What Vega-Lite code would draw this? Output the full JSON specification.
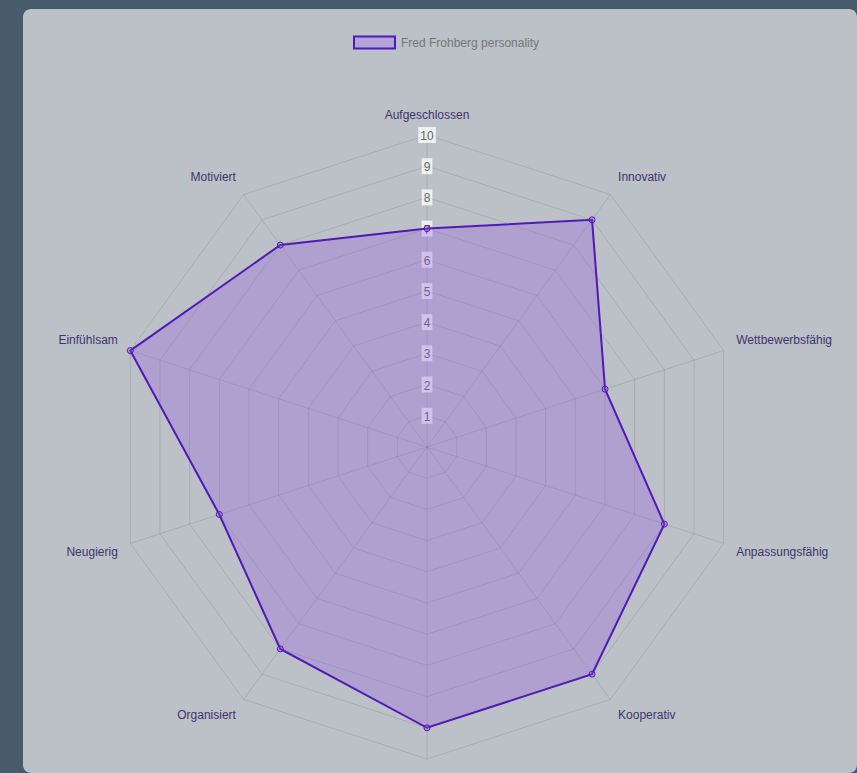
{
  "$schema": "https://vega.github.io/schema/vega-lite/v6.json",
  "autosize": {"type": "fit", "contains": "padding"},
  "width": 857,
  "height": 773,
  "padding": {"left": 23, "top": 9, "right": 0, "bottom": 0},
  "background": "#475b6a",
  "config": {
    "view": {"fill": "#bbc1c7", "stroke": null, "cornerRadius": 8},
    "font": "Liberation Sans"
  },
  "datasets": {
    "traits": [
      {"i": 0, "trait": "Aufgeschlossen", "value": 7},
      {"i": 1, "trait": "Innovativ", "value": 9},
      {"i": 2, "trait": "Wettbewerbsfähig", "value": 6},
      {"i": 3, "trait": "Anpassungsfähig", "value": 8},
      {"i": 4, "trait": "Kooperativ", "value": 9},
      {"i": 5, "trait": "Zuverlässig", "value": 9},
      {"i": 6, "trait": "Organisiert", "value": 8},
      {"i": 7, "trait": "Neugierig", "value": 7},
      {"i": 8, "trait": "Einfühlsam", "value": 10},
      {"i": 9, "trait": "Motiviert", "value": 8}
    ],
    "grid": [
      {"level": 1, "i": [0, 1, 2, 3, 4, 5, 6, 7, 8, 9]},
      {"level": 2, "i": [0, 1, 2, 3, 4, 5, 6, 7, 8, 9]},
      {"level": 3, "i": [0, 1, 2, 3, 4, 5, 6, 7, 8, 9]},
      {"level": 4, "i": [0, 1, 2, 3, 4, 5, 6, 7, 8, 9]},
      {"level": 5, "i": [0, 1, 2, 3, 4, 5, 6, 7, 8, 9]},
      {"level": 6, "i": [0, 1, 2, 3, 4, 5, 6, 7, 8, 9]},
      {"level": 7, "i": [0, 1, 2, 3, 4, 5, 6, 7, 8, 9]},
      {"level": 8, "i": [0, 1, 2, 3, 4, 5, 6, 7, 8, 9]},
      {"level": 9, "i": [0, 1, 2, 3, 4, 5, 6, 7, 8, 9]},
      {"level": 10, "i": [0, 1, 2, 3, 4, 5, 6, 7, 8, 9]}
    ]
  },
  "encoding": {
    "x": {"field": "x", "type": "quantitative", "scale": {"domain": [-12.949, 13.782], "nice": false, "zero": false}, "axis": null},
    "y": {"field": "y", "type": "quantitative", "scale": {"domain": [-10.449, 14.038], "nice": false, "zero": false}, "axis": null}
  },
  "layer": [
    {
      "data": {"name": "grid"},
      "transform": [
        {"flatten": ["i"]},
        {"calculate": "datum.level*sin(datum.i*PI/5)", "as": "x"},
        {"calculate": "datum.level*cos(datum.i*PI/5)", "as": "y"}
      ],
      "mark": {"type": "line", "interpolate": "linear-closed", "stroke": "#000000", "strokeOpacity": 0.1, "strokeWidth": 1},
      "encoding": {
        "detail": {"field": "level", "type": "nominal"},
        "order": {"field": "i", "type": "quantitative"}
      }
    },
    {
      "data": {"name": "traits"},
      "transform": [
        {"calculate": "0", "as": "x"},
        {"calculate": "0", "as": "y"},
        {"calculate": "10*sin(datum.i*PI/5)", "as": "x2"},
        {"calculate": "10*cos(datum.i*PI/5)", "as": "y2"}
      ],
      "mark": {"type": "rule", "stroke": "#000000", "strokeOpacity": 0.1, "strokeWidth": 1},
      "encoding": {"x2": {"field": "x2"}, "y2": {"field": "y2"}}
    },
    {
      "data": {"name": "grid"},
      "transform": [
        {"filter": "datum.level < 10"},
        {"calculate": "0", "as": "x"},
        {"calculate": "datum.level", "as": "y"}
      ],
      "mark": {"type": "point", "shape": "M-0.67,-1H0.67V1H-0.67Z", "filled": true, "fill": "#ffffff", "fillOpacity": 0.75, "strokeWidth": 0, "size": 256}
    },
    {
      "data": {"name": "grid"},
      "transform": [
        {"filter": "datum.level == 10"},
        {"calculate": "0", "as": "x"},
        {"calculate": "datum.level", "as": "y"}
      ],
      "mark": {"type": "point", "shape": "M-1.1,-1H1.1V1H-1.1Z", "filled": true, "fill": "#ffffff", "fillOpacity": 0.75, "strokeWidth": 0, "size": 256}
    },
    {
      "data": {"name": "grid"},
      "transform": [
        {"calculate": "0", "as": "x"},
        {"calculate": "datum.level", "as": "y"}
      ],
      "mark": {"type": "text", "fontSize": 12, "color": "#666666", "baseline": "middle", "align": "center", "dy": 1},
      "encoding": {"text": {"field": "level", "type": "quantitative"}}
    },
    {
      "data": {"name": "traits"},
      "transform": [
        {"calculate": "datum.value*sin(datum.i*PI/5)", "as": "x"},
        {"calculate": "datum.value*cos(datum.i*PI/5)", "as": "y"}
      ],
      "mark": {"type": "line", "interpolate": "linear-closed", "fill": "#9457e3", "fillOpacity": 0.3, "strokeOpacity": 0},
      "encoding": {
        "order": {"field": "i", "type": "quantitative"}
      }
    },
    {
      "data": {"name": "traits"},
      "transform": [
        {"calculate": "datum.value*sin(datum.i*PI/5)", "as": "x"},
        {"calculate": "datum.value*cos(datum.i*PI/5)", "as": "y"}
      ],
      "mark": {"type": "line", "interpolate": "linear-closed", "strokeWidth": 2},
      "encoding": {
        "order": {"field": "i", "type": "quantitative"},
        "color": {
          "datum": "Fred Frohberg personality",
          "type": "nominal",
          "scale": {"range": ["#5119b5"]},
          "legend": {
            "orient": "none",
            "legendX": 330,
            "legendY": 12,
            "title": null,
            "padding": 0,
            "symbolType": "M-1,-0.293H1V0.293H-1Z",
            "symbolSize": 1681,
            "symbolStrokeWidth": 2,
            "symbolStrokeColor": "#5119b5",
            "symbolFillColor": "#b3a3d8",
            "labelFontSize": 12,
            "labelColor": "#777777",
            "labelOffset": 5,
            "labelFont": "Liberation Sans",
            "encode": {
              "symbols": {
                "update": {
                  "fill": {"value": "#b3a3d8"},
                  "fillOpacity": {"value": 1},
                  "stroke": {"value": "#5119b5"},
                  "opacity": {"value": 1}
                }
              }
            }
          }
        }
      }
    },
    {
      "data": {"name": "traits"},
      "transform": [
        {"calculate": "datum.value*sin(datum.i*PI/5)", "as": "x"},
        {"calculate": "datum.value*cos(datum.i*PI/5)", "as": "y"}
      ],
      "mark": {"type": "point", "shape": "circle", "filled": true, "fill": "#9457e3", "fillOpacity": 0.3, "stroke": "#5119b5", "strokeWidth": 1, "strokeOpacity": 1, "size": 36}
    },
    {
      "data": {"name": "traits"},
      "transform": [
        {"filter": "datum.i == 0"},
        {"calculate": "10.42*sin(datum.i*PI/5)", "as": "x"},
        {"calculate": "10.42*cos(datum.i*PI/5)", "as": "y"}
      ],
      "mark": {"type": "text", "fontSize": 12, "color": "#42336e", "align": "center", "baseline": "bottom"},
      "encoding": {"text": {"field": "trait"}}
    },
    {
      "data": {"name": "traits"},
      "transform": [
        {"filter": "datum.i == 1 || datum.i == 2"},
        {"calculate": "10.42*sin(datum.i*PI/5)", "as": "x"},
        {"calculate": "10.42*cos(datum.i*PI/5)", "as": "y"}
      ],
      "mark": {"type": "text", "fontSize": 12, "color": "#42336e", "align": "left", "baseline": "bottom"},
      "encoding": {"text": {"field": "trait"}}
    },
    {
      "data": {"name": "traits"},
      "transform": [
        {"filter": "datum.i == 3 || datum.i == 4"},
        {"calculate": "10.42*sin(datum.i*PI/5)", "as": "x"},
        {"calculate": "10.42*cos(datum.i*PI/5)", "as": "y"}
      ],
      "mark": {"type": "text", "fontSize": 12, "color": "#42336e", "align": "left", "baseline": "top"},
      "encoding": {"text": {"field": "trait"}}
    },
    {
      "data": {"name": "traits"},
      "transform": [
        {"filter": "datum.i == 6 || datum.i == 7"},
        {"calculate": "10.42*sin(datum.i*PI/5)", "as": "x"},
        {"calculate": "10.42*cos(datum.i*PI/5)", "as": "y"}
      ],
      "mark": {"type": "text", "fontSize": 12, "color": "#42336e", "align": "right", "baseline": "top"},
      "encoding": {"text": {"field": "trait"}}
    },
    {
      "data": {"name": "traits"},
      "transform": [
        {"filter": "datum.i == 8 || datum.i == 9"},
        {"calculate": "10.42*sin(datum.i*PI/5)", "as": "x"},
        {"calculate": "10.42*cos(datum.i*PI/5)", "as": "y"}
      ],
      "mark": {"type": "text", "fontSize": 12, "color": "#42336e", "align": "right", "baseline": "bottom"},
      "encoding": {"text": {"field": "trait"}}
    }
  ]
}
